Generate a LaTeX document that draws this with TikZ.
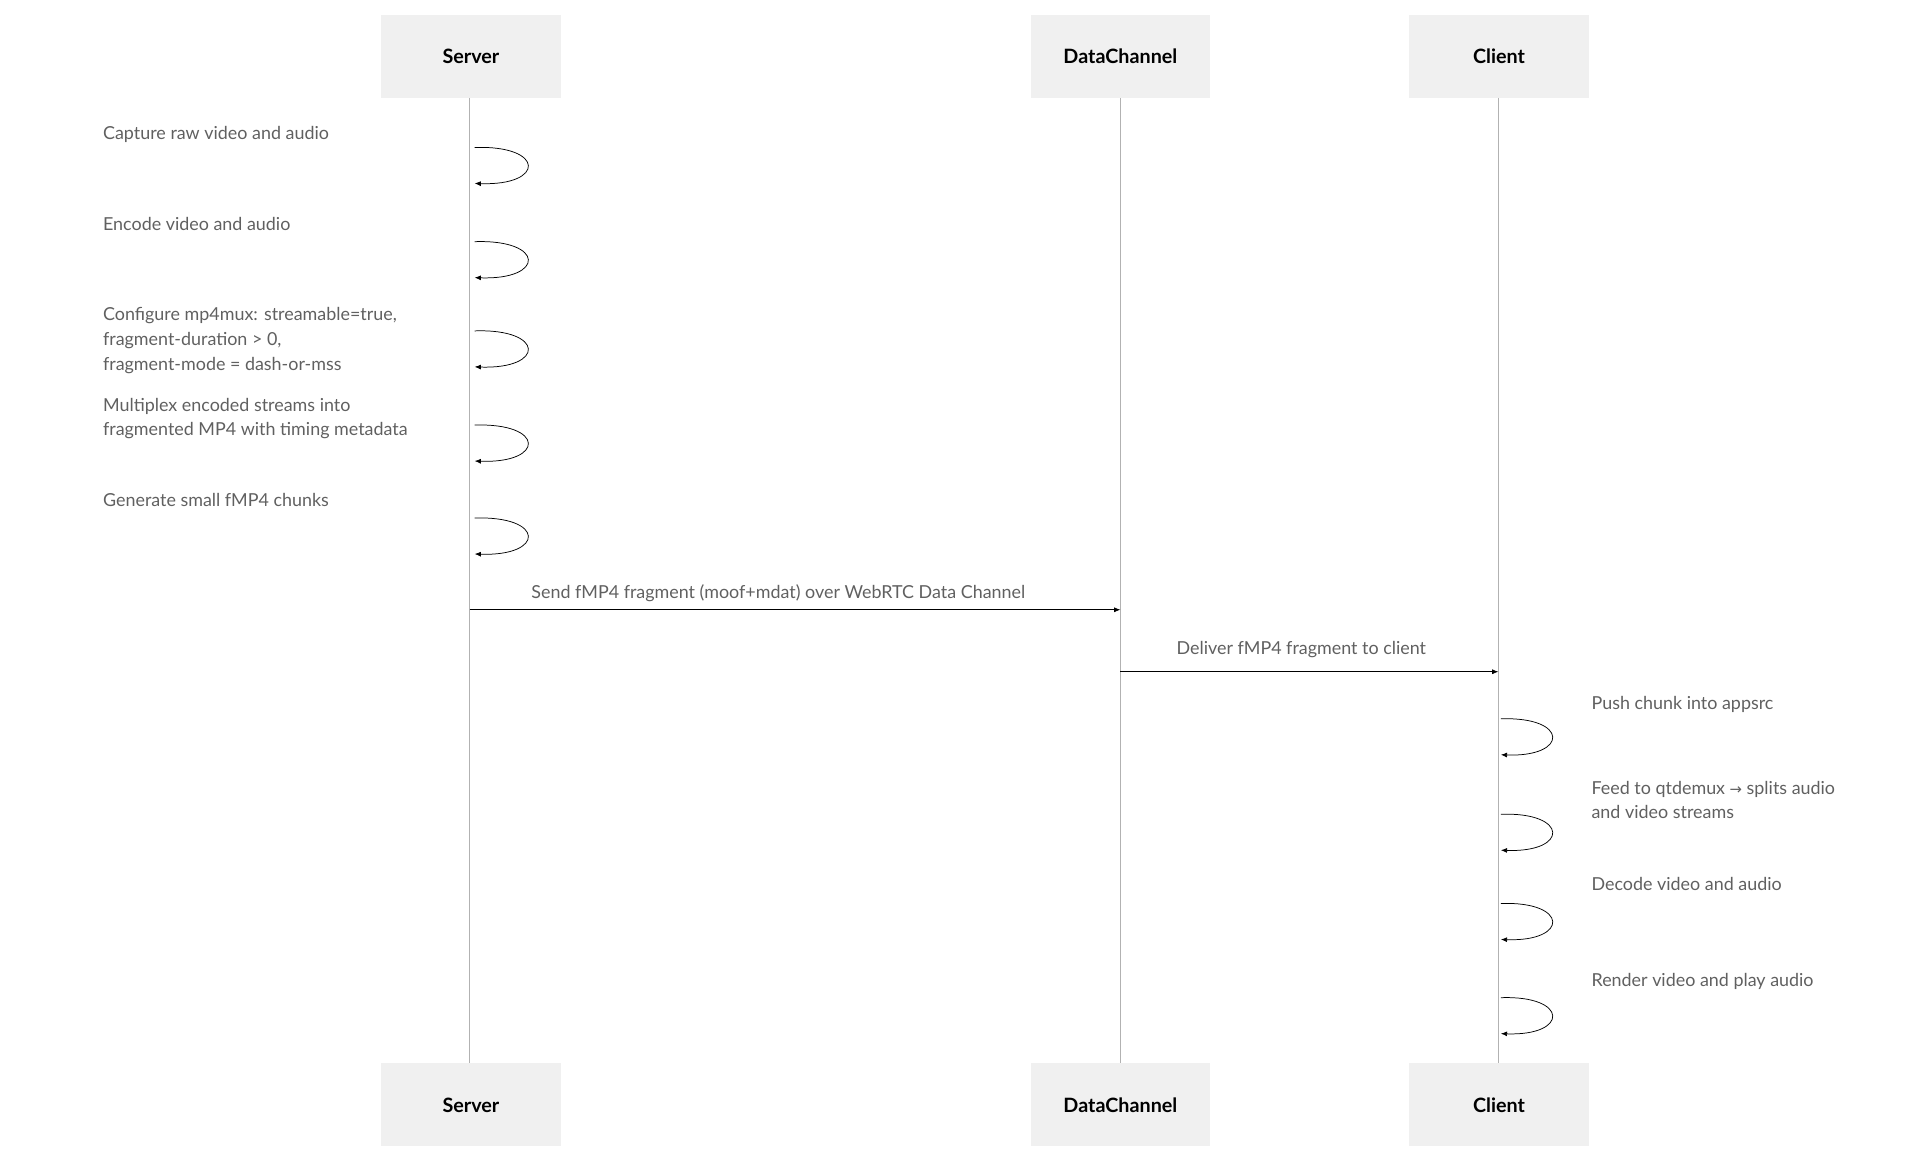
\documentclass[tikz,border=0pt]{standalone}
\usepackage{fontspec}
\setmainfont{Lato}
\usetikzlibrary{positioning,arrows.meta}
\begin{document}
\begin{tikzpicture}[x=1bp,y=-1bp]
	\tikzset{
		actor/.style = {rectangle, fill=gray!12, minimum width=145bp, minimum height=67bp, font=\fontsize{16}{19}\selectfont\bfseries},
		life/.style = {draw=gray!60, line width=0.6pt},
		msg/.style = {-{Latex[length=5pt,width=4pt]}, line width=0.6pt},
		note/.style = {align=left, anchor=north west, inner sep=0pt, text=gray!75!black, font=\fontsize{14.5}{20}\selectfont\addfontfeatures{Weight=300}}
	}
	\useasboundingbox (0,0) rectangle (1550,926.5);

	% Actors
	\node (ST) [actor] at (380,45.5) {Server};
	\node (DT) [actor] at (904,45.5) {DataChannel};
	\node (CT) [actor] at (1209.5,45.5) {Client};
	\node (SB) [actor] at (380,891.5) {Server};
	\node (DB) [actor] at (904,891.5) {DataChannel};
	\node (CB) [actor] at (1209.5,891.5) {Client};
	% Lifelines
	\draw[life] (379,79) -- (379,858);
	\draw[life] (904,79) -- (904,858);
	\draw[life] (1209,79) -- (1209,858);

	% Server steps
	\node[note] (n1) at (83,102) {Capture raw video and audio};
	\node[note] (n2) at (83,175) {Encode video and audio};
	\node[note] (n3) at (83,248) {Configure mp4mux: streamable=true,\\fragment-duration > 0,\\fragment-mode = dash-or-mss};
	\node[note] (n4) at (83,321) {Multiplex encoded streams into\\fragmented MP4 with timing metadata};
	\node[note] (n5) at (83,398) {Generate small fMP4 chunks};
	\foreach \y in {119,195,267,343,418}
	\draw[msg] (383,\y) .. controls (440,\y-2) and (440,\y+31) .. (383,\y+29);

	% Messages
	\coordinate (m1s) at (379,492);
	\coordinate (m1e) at (904,492);
	\draw[msg] (m1s) -- (m1e);
	\node[note, anchor=south] at (628,486) {Send fMP4 fragment (moof+mdat) over WebRTC Data Channel};
	\coordinate (m2s) at (904,542);
	\coordinate (m2e) at (1209,542);
	\draw[msg] (m2s) -- (m2e);
	\node[note, anchor=south] at (1050,531) {Deliver fMP4 fragment to client};

	% Client steps
	\node[note] (c1) at (1284,562) {Push chunk into appsrc};
	\node[note] (c2) at (1284,630) {Feed to qtdemux {\fontspec{DejaVu Sans}\fontsize{12}{20}\selectfont→} splits audio\\and video streams};
	\node[note] (c3) at (1284,708) {Decode video and audio};
	\node[note] (c4) at (1284,785) {Render video and play audio};
	\foreach \y in {580,657,729,805}
	\draw[msg] (1211,\y) .. controls (1266,\y-2) and (1266,\y+31) .. (1211,\y+29);
\end{tikzpicture}
\end{document}
